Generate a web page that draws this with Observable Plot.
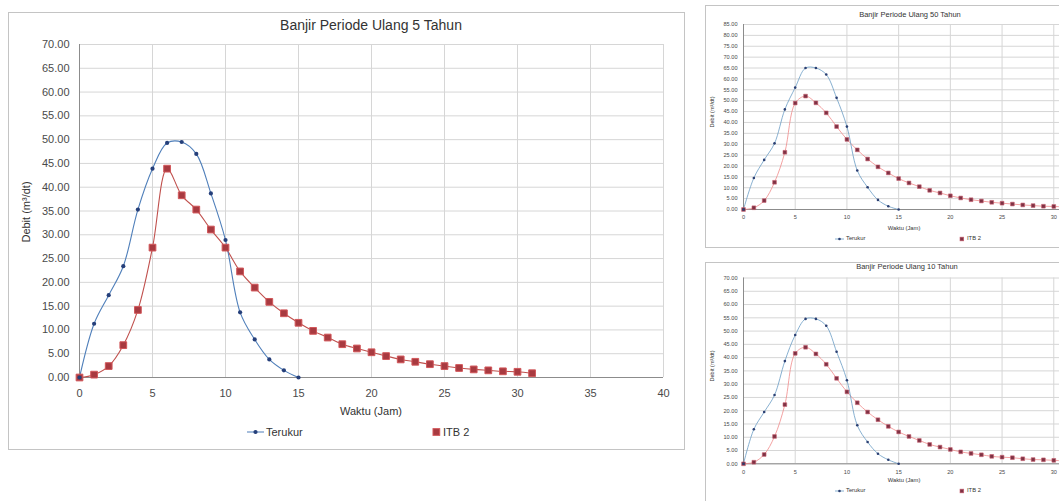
<!DOCTYPE html>
<html><head><meta charset="utf-8">
<script src="https://cdn.jsdelivr.net/npm/d3@7"></script>
<script src="https://cdn.jsdelivr.net/npm/@observablehq/plot@0.6"></script>
<style>
html,body{margin:0;padding:0;background:#fff;overflow:hidden;}
#root{position:relative;width:1059px;height:501px;overflow:hidden;font-family:"Liberation Sans",Arial,sans-serif;background:#fff;}
.box{position:absolute;box-sizing:border-box;border:1px solid #c4c4c4;background:#fff;}
.layer{position:absolute;}
.layer svg{max-width:none !important;display:block;}
.t{position:absolute;white-space:nowrap;color:#333;transform:translate(-50%,-50%);line-height:1;}
.lg{position:absolute;white-space:nowrap;color:#333;display:flex;align-items:center;transform:translateY(-50%);line-height:1;}
</style></head><body><div id="root"></div>
<script>
// ---- data ----
const hoursTerukur = [0,1,2,3,4,5,6,7,8,9,10,11,12,13,14,15];
const hoursITB = [0,1,2,3,4,5,6,7,8,9,10,11,12,13,14,15,16,17,18,19,20,21,22,23,24,25,26,27,28,29,30,31];

const terukur5 = [0,11.3,17.3,23.4,35.3,43.9,49.3,49.5,47.0,38.7,28.9,13.7,8.0,3.8,1.5,0];
const itb2_5 = [0,0.6,2.4,6.8,14.2,27.3,43.9,38.3,35.3,31.1,27.3,22.3,18.9,15.9,13.5,11.5,9.8,8.4,7.0,6.1,5.3,4.5,3.8,3.3,2.8,2.4,2.0,1.7,1.5,1.3,1.2,0.9];

const terukur50 = [0,14.5,22.8,30.4,46.0,56.0,65.0,65.0,62.0,51.3,38.1,17.9,10.2,4.4,1.5,0];
const itb2_50 = [0,0.8,4.1,12.5,26.3,48.9,52.1,49.0,44.4,38.1,32.2,27.4,23.2,19.6,16.8,14.2,12.2,10.5,8.8,7.6,6.3,5.3,4.5,3.9,3.3,2.9,2.5,2.1,1.8,1.5,1.4,1.2];

const terukur10 = [0,13.0,19.5,25.9,38.7,48.5,54.6,54.6,52.0,42.2,31.5,14.5,8.2,3.8,1.5,0];
const itb2_10 = [0,0.6,3.5,10.3,22.3,41.6,43.9,41.4,37.5,32.2,27.1,23.0,19.5,16.6,14.1,12.0,10.3,8.8,7.3,6.3,5.4,4.5,3.9,3.4,2.8,2.5,2.3,1.9,1.6,1.5,1.3,1.1];

const xTicks40 = [0,5,10,15,20,25,30,35,40];
const xTicks35 = [0,5,10,15,20,25,30,35];
const yTicks70 = [0,5,10,15,20,25,30,35,40,45,50,55,60,65,70];
const yTicks85 = [0,5,10,15,20,25,30,35,40,45,50,55,60,65,70,75,80,85];

const titles = ["Banjir Periode Ulang 5 Tahun","Banjir Periode Ulang 50 Tahun","Banjir Periode Ulang 10 Tahun"];
const seriesNames = ["Terukur","ITB 2"];
const xTitle = "Waktu (Jam)";
const yTitle = "Debit (m³/dt)";

// ---- helpers ----
const root = document.getElementById("root");
const rows = (xs, ys) => xs.map((t, i) => ({t, q: ys[i]}));

function addEl(cls, x, y, html, style) {
  const d = document.createElement("div");
  d.className = cls;
  d.style.left = x + "px"; d.style.top = y + "px";
  Object.assign(d.style, style || {});
  d.innerHTML = html;
  root.appendChild(d);
  return d;
}

function chart(o) {
  const ter = rows(hoursTerukur, o.terukur);
  const itb = rows(hoursITB, o.itb);
  const plot = Plot.plot({
    width: o.width, height: o.height,
    marginTop: o.mt, marginRight: o.mr, marginBottom: o.mb, marginLeft: o.ml,
    style: {fontFamily: "Liberation Sans, Arial, sans-serif", fontSize: o.fs + "px", color: "#4a4a4a", background: "transparent", overflow: "visible"},
    x: {domain: [0, o.xmax]},
    y: {domain: [0, o.ymax]},
    marks: [
      Plot.gridX(o.xTicks, {stroke: "#d6d6d6", strokeOpacity: 1}),
      Plot.gridY(o.yTicks, {stroke: "#d6d6d6", strokeOpacity: 1}),
      Plot.axisX(o.xTicks, {tickSize: 0, tickPadding: o.xpad, tickFormat: d3.format("d"), label: null}),
      Plot.axisY(o.yTicks, {tickSize: 0, tickPadding: o.ypad, tickFormat: d3.format(".2f"), label: null}),
      Plot.ruleX([0], {stroke: "#8c8c8c"}),
      Plot.ruleY([0], {stroke: "#8c8c8c"}),
      Plot.line(itb, {x: "t", y: "q", curve: "catmull-rom", stroke: o.redLine, strokeWidth: o.lw}),
      Plot.line(ter, {x: "t", y: "q", curve: "catmull-rom", stroke: o.blueLine, strokeWidth: o.lw}),
      Plot.dot(itb, {x: "t", y: "q", symbol: "square", r: o.sq, fill: o.redFill, stroke: o.redStroke, strokeWidth: o.sqw}),
      Plot.dot(ter, {x: "t", y: "q", r: o.r, fill: o.blueDot, stroke: "none"})
    ]
  });
  const wrap = document.createElement("div");
  wrap.className = "layer";
  wrap.style.left = o.left + "px"; wrap.style.top = o.top + "px";
  wrap.style.width = o.width + "px"; wrap.style.height = o.height + "px";
  wrap.appendChild(plot);
  root.appendChild(wrap);
}

function legendItem(x, y, kind, label, fs, o) {
  const w = Math.round(fs * 1.5);
  let sym;
  if (kind === "blue") {
    sym = `<svg width="${w}" height="${fs}" style="margin-right:2px"><line x1="0" x2="${w}" y1="${fs/2}" y2="${fs/2}" stroke="${o.blueLine}" stroke-width="${o.lw}"/><circle cx="${w/2}" cy="${fs/2}" r="${o.r}" fill="${o.blueDot}"/></svg>`;
  } else {
    const s = o.sq * 1.77;
    sym = `<svg width="${Math.ceil(s)+2}" height="${fs}" style="margin-right:2px"><rect x="1" y="${(fs-s)/2}" width="${s}" height="${s}" fill="${o.redFill}" stroke="${o.redStroke}" stroke-width="${o.sqw}"/></svg>`;
  }
  addEl("lg", x, y, sym + `<span>${label}</span>`, {fontSize: fs + "px"});
}

// ---- main chart (5 Tahun) ----
const mainStyle = {blueLine: "#4f7fba", blueDot: "#253f7a", redLine: "#c0504d", redFill: "#a83a40", redStroke: "#d2575a", lw: 1.1, r: 2.1, sq: 3.8, sqw: 1};
addEl("box", 8, 12, "", {width: "677px", height: "438px"});
chart(Object.assign({left: 8, top: 12, width: 677, height: 438, mt: 32, mr: 22, mb: 73, ml: 71,
  fs: 11, xmax: 40, ymax: 70, xTicks: xTicks40, yTicks: yTicks70, xpad: 12, ypad: 10,
  terukur: terukur5, itb: itb2_5}, mainStyle));
addEl("t", 371, 25, titles[0], {fontSize: "14px", color: "#333"});
addEl("t", 371, 411, xTitle, {fontSize: "11px"});
addEl("t", 26, 212, yTitle, {fontSize: "11px", transform: "translate(-50%,-50%) rotate(-90deg)"});
legendItem(247, 432, "blue", seriesNames[0], 11, mainStyle);
legendItem(432, 432, "red", seriesNames[1], 11, mainStyle);

// ---- small charts ----
const smallStyle = {blueLine: "#6a9cc4", blueDot: "#2b3f72", redLine: "#f08a8a", redFill: "#7e3244", redStroke: "#c86070", lw: 0.8, r: 1.3, sq: 2.1, sqw: 0.6};

// 50 Tahun
addEl("box", 705, 5, "", {width: "410px", height: "243px"});
chart(Object.assign({left: 705, top: 5, width: 410, height: 243, mt: 19, mr: 10, mb: 39, ml: 38,
  fs: 5.6, xmax: 35, ymax: 85, xTicks: xTicks35, yTicks: yTicks85, xpad: 6, ypad: 6,
  terukur: terukur50, itb: itb2_50}, smallStyle));
addEl("t", 910, 15, titles[1], {fontSize: "7.5px"});
addEl("t", 904, 229, xTitle, {fontSize: "5.8px"});
addEl("t", 713, 112, yTitle, {fontSize: "5.6px", transform: "translate(-50%,-50%) rotate(-90deg)"});
legendItem(835, 239, "blue", seriesNames[0], 5.8, smallStyle);
legendItem(959, 239, "red", seriesNames[1], 5.8, smallStyle);

// 10 Tahun
addEl("box", 705, 262, "", {width: "410px", height: "250px"});
chart(Object.assign({left: 705, top: 262, width: 410, height: 250, mt: 15.5, mr: 10, mb: 48.7, ml: 38,
  fs: 5.6, xmax: 35, ymax: 70, xTicks: xTicks35, yTicks: yTicks70, xpad: 6, ypad: 6,
  terukur: terukur10, itb: itb2_10}, smallStyle));
addEl("t", 907, 267, titles[2], {fontSize: "7.5px"});
addEl("t", 904, 481, xTitle, {fontSize: "5.8px"});
addEl("t", 713, 366, yTitle, {fontSize: "5.6px", transform: "translate(-50%,-50%) rotate(-90deg)"});
legendItem(835, 491, "blue", seriesNames[0], 5.8, smallStyle);
legendItem(959, 491, "red", seriesNames[1], 5.8, smallStyle);
</script></body></html>
